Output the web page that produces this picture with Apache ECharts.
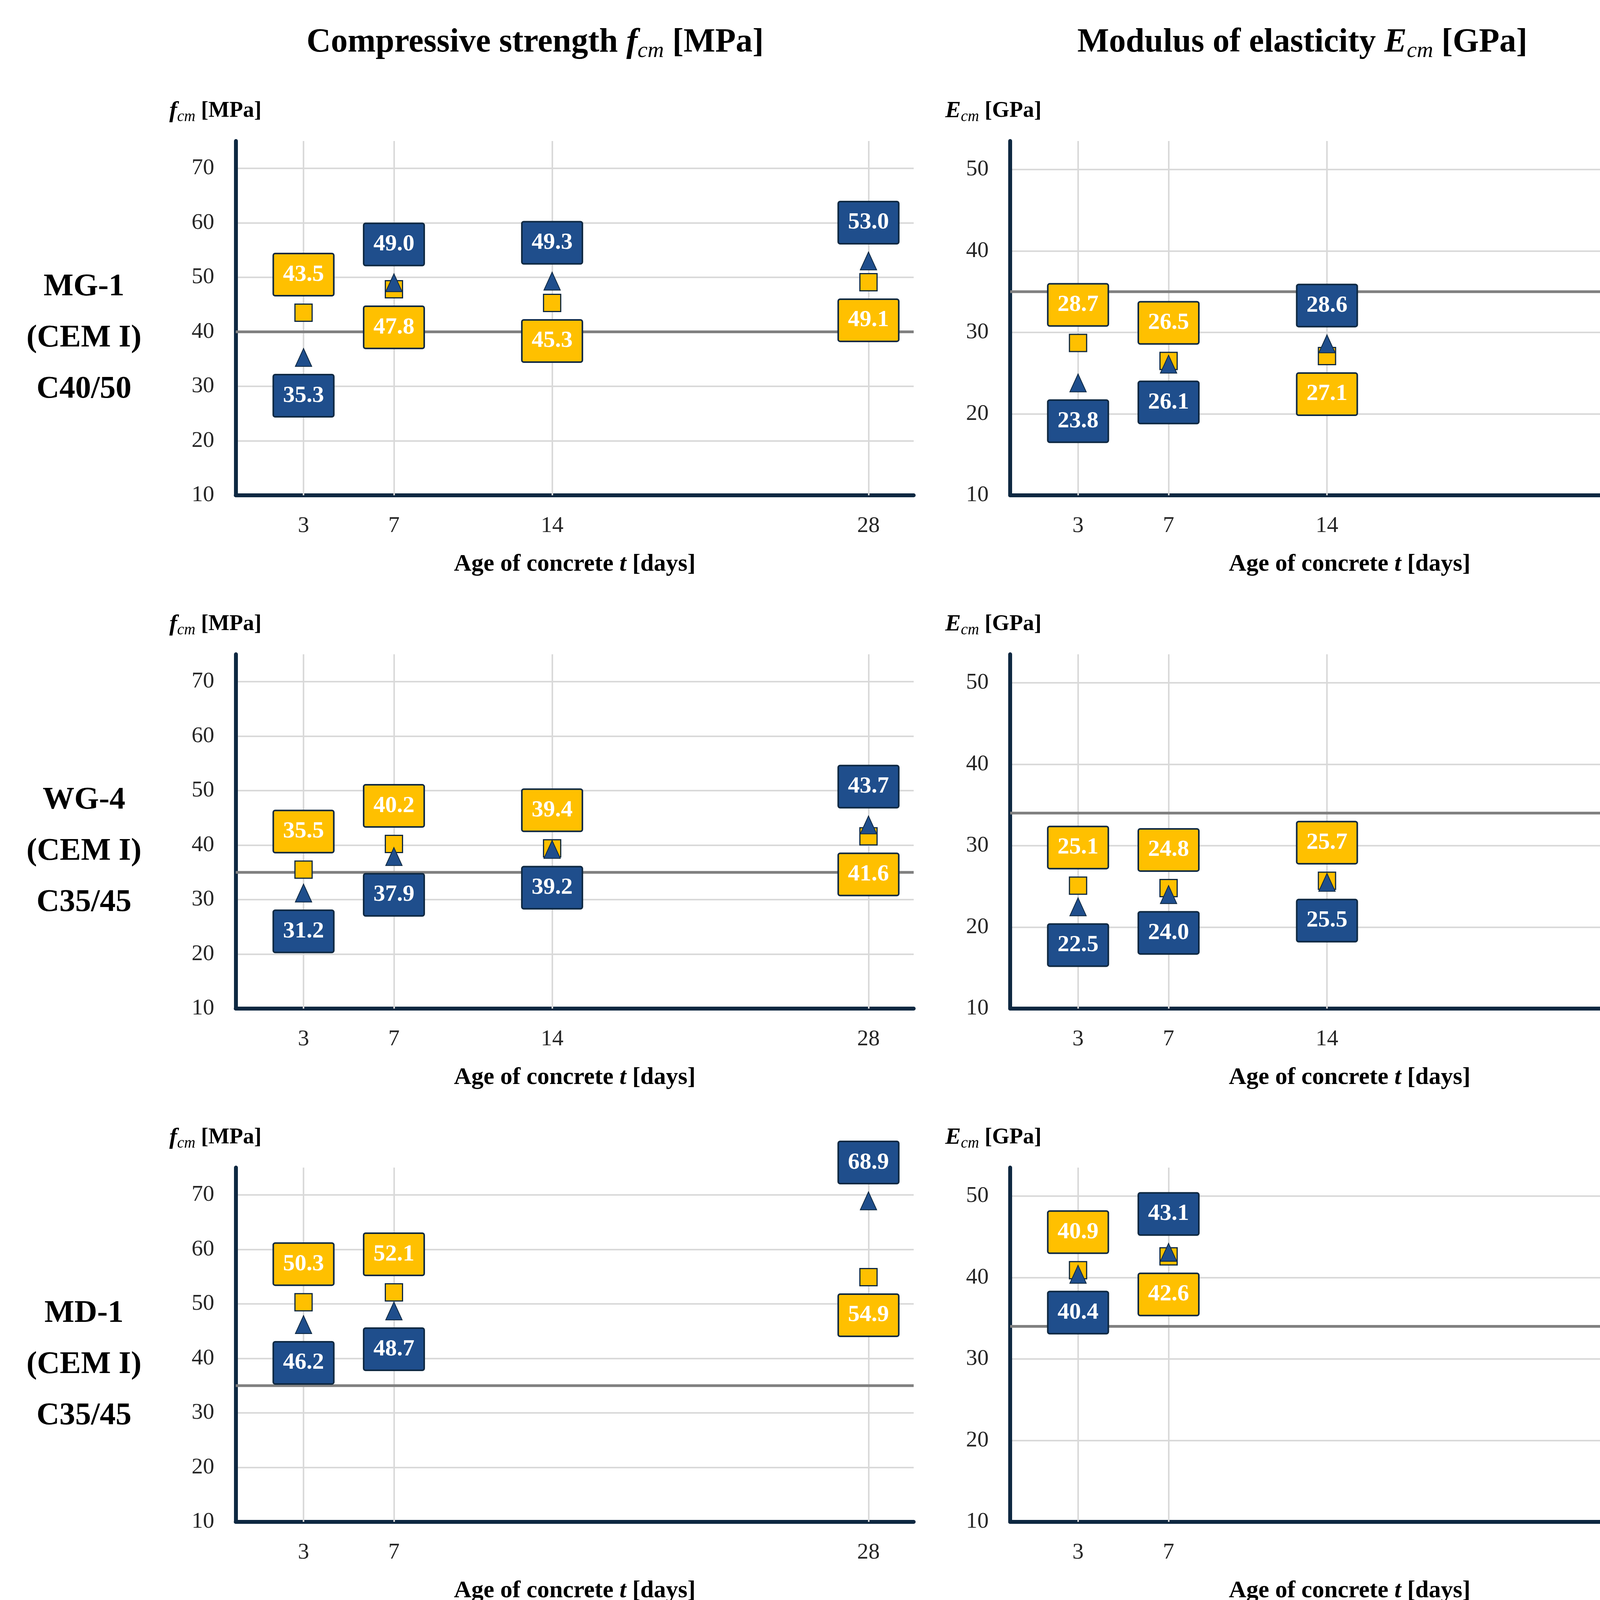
<!DOCTYPE html>
<html>
<head>
<meta charset="utf-8">
<script src="https://cdn.jsdelivr.net/npm/echarts@6/dist/echarts.min.js"></script>
<style>
html,body{margin:0;padding:0;background:#ffffff;}
#chart{width:4415px;height:5659px;}
</style>
</head>
<body>
<div id="chart"></div>
<script>
// ---------------- DATA ----------------
// Row 1: MG-1 (CEM I) C40/50
const ages_MG1_CEMI = [3, 7, 14, 28];
const fcm_MG1_CEMI_structure = [43.5, 47.8, 45.3, 49.1];
const fcm_MG1_CEMI_standard  = [35.3, 49.0, 49.3, 53.0];
const Ecm_MG1_CEMI_structure = [28.7, 26.5, 27.1, 27.6];
const Ecm_MG1_CEMI_standard  = [23.8, 26.1, 28.6, 30.4];
const fcm_MG1_CEMI_standardValue = 40;
const Ecm_MG1_CEMI_standardValue = 35;

// Row 2: WG-4 (CEM I) C35/45
const ages_WG4_CEMI = [3, 7, 14, 28];
const fcm_WG4_CEMI_structure = [35.5, 40.2, 39.4, 41.6];
const fcm_WG4_CEMI_standard  = [31.2, 37.9, 39.2, 43.7];
const Ecm_WG4_CEMI_structure = [25.1, 24.8, 25.7, 26.6];
const Ecm_WG4_CEMI_standard  = [22.5, 24.0, 25.5, 28.2];
const fcm_WG4_CEMI_standardValue = 35;
const Ecm_WG4_CEMI_standardValue = 34;

// Row 3: MD-1 (CEM I) C35/45
const ages_MD1_CEMI = [3, 7, 28];
const fcm_MD1_CEMI_structure = [50.3, 52.1, 54.9];
const fcm_MD1_CEMI_standard  = [46.2, 48.7, 68.9];
const Ecm_MD1_CEMI_structure = [40.9, 42.6, 41.9];
const Ecm_MD1_CEMI_standard  = [40.4, 43.1, 45.9];
const fcm_MD1_CEMI_standardValue = 35;
const Ecm_MD1_CEMI_standardValue = 34;

// Row 4: MG-1 (CEM III) C40/50
const ages_MG1_CEMIII = [3, 9, 56];
const fcm_MG1_CEMIII_structure = [42.4, 43.0, 42.6];
const fcm_MG1_CEMIII_standard  = [15.5, 25.4, 55.8];
const Ecm_MG1_CEMIII_structure = [26.5, 27.9, 30.8];
const Ecm_MG1_CEMIII_standard  = [16.2, 21.0, 29.9];
const fcm_MG1_CEMIII_standardValue = 40;
const Ecm_MG1_CEMIII_standardValue = 35;

const rowLabels = ['MG-1\n(CEM I)\nC40/50', 'WG-4\n(CEM I)\nC35/45', 'MD-1\n(CEM I)\nC35/45', 'MG-1\n(CEM III)\nC40/50'];
const yTicksFcm = [10, 20, 30, 40, 50, 60, 70];
const yTicksEcm = [10, 20, 30, 40, 50];
const seriesNames = ['Structure conditions', 'Standard conditions', 'Standard value'];

// ---------------- LAYOUT / STYLE ----------------
const FONT = '"Liberation Serif", "Times New Roman", serif';
const YELLOW = '#FFC000';
const NAVY = '#1F4E8C';
const DARK = '#0E2841';
const T = 'top', B = 'bottom';

const panels = [
  {row:0, col:0, ages:ages_MG1_CEMI, s:fcm_MG1_CEMI_structure, d:fcm_MG1_CEMI_standard, v:fcm_MG1_CEMI_standardValue, xMax:30, sSide:[T,B,B,B], dSide:[B,T,T,T]},
  {row:0, col:1, ages:ages_MG1_CEMI, s:Ecm_MG1_CEMI_structure, d:Ecm_MG1_CEMI_standard, v:Ecm_MG1_CEMI_standardValue, xMax:30, sSide:[T,T,B,B], dSide:[B,B,T,T]},
  {row:1, col:0, ages:ages_WG4_CEMI, s:fcm_WG4_CEMI_structure, d:fcm_WG4_CEMI_standard, v:fcm_WG4_CEMI_standardValue, xMax:30, sSide:[T,T,T,B], dSide:[B,B,B,T]},
  {row:1, col:1, ages:ages_WG4_CEMI, s:Ecm_WG4_CEMI_structure, d:Ecm_WG4_CEMI_standard, v:Ecm_WG4_CEMI_standardValue, xMax:30, sSide:[T,T,T,B], dSide:[B,B,B,T]},
  {row:2, col:0, ages:ages_MD1_CEMI, s:fcm_MD1_CEMI_structure, d:fcm_MD1_CEMI_standard, v:fcm_MD1_CEMI_standardValue, xMax:30, sSide:[T,T,B], dSide:[B,B,T]},
  {row:2, col:1, ages:ages_MD1_CEMI, s:Ecm_MD1_CEMI_structure, d:Ecm_MD1_CEMI_standard, v:Ecm_MD1_CEMI_standardValue, xMax:30, sSide:[T,B,B], dSide:[B,T,T]},
  {row:3, col:0, ages:ages_MG1_CEMIII, s:fcm_MG1_CEMIII_structure, d:fcm_MG1_CEMIII_standard, v:fcm_MG1_CEMIII_standardValue, xMax:60, sSide:[T,T,B], dSide:[T,T,T]},
  {row:3, col:1, ages:ages_MG1_CEMIII, s:Ecm_MG1_CEMIII_structure, d:Ecm_MG1_CEMIII_standard, v:Ecm_MG1_CEMIII_standardValue, xMax:60, sSide:[T,T,T], dSide:[T,B,B]}
];

const rowTops = [361, 1675, 2989, 4303];
const gridH = 907;
const colLeft = [603.5, 2586];
const colW = [1735.5, 1738];
const yMin = 10;
const yMaxCol = [75, 53.5];

function boxLabel(fill) {
  return {
    show: true,
    formatter: p => p.value[1].toFixed(1),
    color: '#ffffff',
    fontFamily: FONT,
    fontWeight: 'bold',
    fontSize: 60,
    lineHeight: 60,
    width: 107,
    height: 60,
    padding: [22, 22],
    backgroundColor: fill,
    borderColor: DARK,
    borderWidth: 4,
    borderRadius: 3,
    distance: 22
  };
}

const grids = [], xAxes = [], yAxes = [], series = [];
panels.forEach((p, i) => {
  grids.push({left: colLeft[p.col], top: rowTops[p.row], width: colW[p.col], height: gridH, containLabel: false});
  xAxes.push({
    gridIndex: i, type: 'value', min: 0, max: p.xMax,
    name: '{b|Age of concrete }{bi|t}{b| [days]}',
    nameLocation: 'middle', nameGap: 177,
    nameTextStyle: {verticalAlign: 'middle', rich: {
      b: {fontFamily: FONT, fontWeight: 'bold', fontSize: 62, color: '#000'},
      bi: {fontFamily: FONT, fontWeight: 'bold', fontStyle: 'italic', fontSize: 62, color: '#000'}
    }},
    axisLine: {show: true, onZero: false, lineStyle: {color: DARK, width: 10}},
    axisTick: {show: false},
    splitLine: {show: false},
    axisLabel: {customValues: p.ages, fontFamily: FONT, fontSize: 58, color: '#262626', margin: 50}
  });
  const isF = p.col === 0;
  yAxes.push({
    gridIndex: i, type: 'value', min: yMin, max: yMaxCol[p.col], interval: 10,
    name: isF ? '{i|f}{s|cm}{n| [MPa]}' : '{i|E}{s|cm}{n| [GPa]}',
    nameLocation: 'end', nameGap: 77,
    nameTextStyle: {align: 'center', verticalAlign: 'middle', padding: [0, isF ? 104 : 86, 0, 0], lineHeight: 70, rich: {
      i: {fontFamily: FONT, fontWeight: 'bold', fontStyle: 'italic', fontSize: 60, color: '#000', lineHeight: 70},
      s: {fontFamily: FONT, fontStyle: 'italic', fontSize: 40, color: '#000', verticalAlign: 'bottom', lineHeight: 42},
      n: {fontFamily: FONT, fontWeight: 'bold', fontSize: 57, color: '#000', lineHeight: 70}
    }},
    axisLine: {show: true, lineStyle: {color: DARK, width: 10}},
    axisTick: {show: false},
    splitLine: {show: true, showMaxLine: false, lineStyle: {color: '#D9D9D9', width: 4}},
    axisLabel: {fontFamily: FONT, fontSize: 58, color: '#262626', margin: 55,
      formatter: v => ((isF ? yTicksFcm : yTicksEcm).indexOf(v) >= 0 ? String(v) : '')}
  });
  series.push({
    type: 'line', name: 'gridlines', xAxisIndex: i, yAxisIndex: i, z: 1, silent: true,
    data: p.ages.map(a => [a, yMin]), showSymbol: false, symbol: 'none',
    lineStyle: {width: 0, opacity: 0},
    markLine: {silent: true, z: 1, symbol: ['none', 'none'], label: {show: false}, animation: false,
      lineStyle: {color: '#D9D9D9', width: 4, type: 'solid'},
      data: p.ages.map(a => ({xAxis: a}))}
  });
  series.push({
    type: 'line', name: seriesNames[2], xAxisIndex: i, yAxisIndex: i, z: 2, silent: true,
    data: [[0, p.v], [p.xMax, p.v]], symbol: 'none', showSymbol: false,
    lineStyle: {color: '#808080', width: 7}, itemStyle: {color: '#808080'}
  });
  series.push({
    type: 'scatter', name: seriesNames[0], xAxisIndex: i, yAxisIndex: i, z: 3,
    symbol: 'rect', symbolSize: 44,
    itemStyle: {color: YELLOW, borderColor: DARK, borderWidth: 3, opacity: 1},
    label: boxLabel(YELLOW),
    data: p.ages.map((a, k) => ({value: [a, p.s[k]], label: {position: p.sSide[k]}}))
  });
  series.push({
    type: 'scatter', name: seriesNames[1], xAxisIndex: i, yAxisIndex: i, z: 4,
    symbol: 'triangle', symbolSize: [42, 46],
    itemStyle: {color: NAVY, borderColor: DARK, borderWidth: 2, opacity: 1},
    label: boxLabel(NAVY),
    data: p.ages.map((a, k) => ({value: [a, p.d[k]], label: {position: p.dSide[k]}}))
  });
});

const graphics = [];
graphics.push({type: 'text', x: 1370, y: 110, style: {
  text: 'Compressive strength {i|f}{s|cm}{n| [MPa]}', fontFamily: FONT, fontWeight: 'bold', fontSize: 86, fill: '#000',
  align: 'center', verticalAlign: 'middle', lineHeight: 100,
  rich: {i: {fontFamily: FONT, fontWeight: 'bold', fontStyle: 'italic', fontSize: 86, lineHeight: 100},
         s: {fontFamily: FONT, fontStyle: 'italic', fontSize: 58, verticalAlign: 'bottom', lineHeight: 62},
         n: {fontFamily: FONT, fontWeight: 'bold', fontSize: 86, lineHeight: 100}}
}});
graphics.push({type: 'text', x: 3334, y: 110, style: {
  text: 'Modulus of elasticity {i|E}{s|cm}{n| [GPa]}', fontFamily: FONT, fontWeight: 'bold', fontSize: 86, fill: '#000',
  align: 'center', verticalAlign: 'middle', lineHeight: 100,
  rich: {i: {fontFamily: FONT, fontWeight: 'bold', fontStyle: 'italic', fontSize: 86, lineHeight: 100},
         s: {fontFamily: FONT, fontStyle: 'italic', fontSize: 58, verticalAlign: 'bottom', lineHeight: 62},
         n: {fontFamily: FONT, fontWeight: 'bold', fontSize: 86, lineHeight: 100}}
}});
rowLabels.forEach((t, r) => {
  graphics.push({type: 'text', x: 215, y: rowTops[r] + 505, style: {
    text: t, fontFamily: FONT, fontWeight: 'bold', fontSize: 81, lineHeight: 131, fill: '#000',
    align: 'center', verticalAlign: 'middle'
  }});
});

const option = {
  backgroundColor: '#ffffff',
  animation: false,
  grid: grids,
  xAxis: xAxes,
  yAxis: yAxes,
  series: series,
  graphic: graphics,
  legend: {
    left: 1094, top: 5519, orient: 'horizontal', selectedMode: false,
    itemWidth: 169, itemHeight: 47, itemGap: 140,
    textStyle: {fontFamily: FONT, fontSize: 80, color: '#000'},
    data: [
      {name: seriesNames[0], icon: 'path://M0,0L0,0M169,47L169,47M55,0h47v47h-47z'},
      {name: seriesNames[1], icon: 'path://M0,0L0,0M169,47L169,47M52,23.5a23.5,23.5 0 1,0 47,0a23.5,23.5 0 1,0 -47,0z', itemStyle: {borderWidth: 0}},
      {name: seriesNames[2], icon: 'path://M0,0L0,0M169,47L169,47M0,20h169v7h-169z'}
    ]
  }
};

const chart = echarts.init(document.getElementById('chart'), null, {renderer: 'canvas', width: 4415, height: 5659});
chart.setOption(option);
</script>
</body>
</html>
